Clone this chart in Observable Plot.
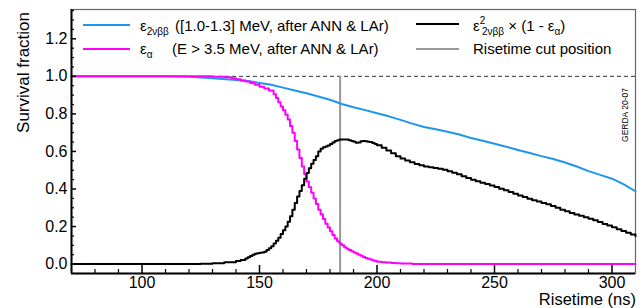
<!DOCTYPE html>
<html><head><meta charset="utf-8">
<script src="https://cdn.jsdelivr.net/npm/d3@7"></script>
<script src="https://cdn.jsdelivr.net/npm/@observablehq/plot@0.6"></script>
<style>html,body{margin:0;padding:0;background:#fff}</style>
</head><body><div id="chart"></div>
<script>
// ---- data ----
const blueT = [70,110,120,130,140,145,150,155,160,165,170,175,180,185,190,195,200,205,210,215,220,225,230,235,240,245,250,255,260,265,270,275,280,285,290,295,300,305,310];
const blueV = [1.0,1.0,0.998,0.99,0.98,0.975,0.965,0.955,0.94,0.925,0.91,0.893,0.875,0.853,0.835,0.82,0.803,0.787,0.768,0.748,0.73,0.718,0.705,0.69,0.672,0.657,0.641,0.625,0.608,0.592,0.575,0.56,0.541,0.52,0.495,0.475,0.455,0.425,0.388];

const magT = [70,125,130,135,138,140,142,144,146,148,150,152,154,
  156,157,158,159,160,161,162,163,164,165,166,167,168,169,170,171,172,173,174,175,176,177,178,179,180,
  181,182,183,184,185,186,187,188,189,190,191,192,193,194,195,196,197,198,199,200,
  202,204,206,208,210,215,220,310];
const magV = [1.0,1.0,0.998,0.995,0.99,0.985,0.978,0.972,0.965,0.955,0.945,0.935,0.925,
  0.905,0.885,0.862,0.84,0.82,0.795,0.77,0.735,0.70,0.655,0.61,0.565,0.52,0.48,0.44,0.41,0.38,0.35,0.32,0.29,0.265,0.24,0.215,0.195,0.175,
  0.155,0.137,0.122,0.11,0.1,0.09,0.082,0.075,0.068,0.062,0.056,0.05,0.044,0.038,0.032,0.028,0.024,0.02,0.016,0.013,
  0.01,0.008,0.006,0.004,0.003,0.001,0,0];

const blackT = [70,120,125,130,135,140,142,
  144,145,146,147,148,149,150,151,152,153,154,155,156,157,158,159,160,161,162,163,164,165,166,167,168,169,170,171,172,
  173,174,175,176,177,178,179,180,181,182,183,184,185,186,187,188,189,190,191,192,193,194,195,196,197,198,199,200,
  202,204,206,208,210,212,214,216,218,220,222,224,226,228,230,232,234,236,238,240,242,244,246,248,250,
  252,254,256,258,260,262,264,266,268,270,272,274,276,278,280,282,284,286,288,290,292,294,296,298,300,302,304,306,308,310];
const blackV = [0,0,0.002,0.005,0.01,0.017,0.022,
  0.03,0.036,0.043,0.05,0.055,0.058,0.06,0.062,0.066,0.075,0.085,0.095,0.11,0.125,0.14,0.16,0.18,0.2,0.225,0.255,0.29,0.325,0.36,0.39,0.42,0.455,0.485,0.51,0.535,
  0.555,0.575,0.6,0.615,0.622,0.627,0.632,0.64,0.648,0.655,0.66,0.663,0.664,0.664,0.663,0.66,0.656,0.652,0.647,0.648,0.654,0.655,0.654,0.652,0.65,0.645,0.64,0.633,
  0.62,0.605,0.59,0.575,0.562,0.552,0.542,0.533,0.526,0.52,0.516,0.512,0.508,0.502,0.495,0.487,0.478,0.468,0.458,0.449,0.441,0.433,0.426,0.419,0.411,
  0.402,0.393,0.384,0.375,0.366,0.357,0.348,0.34,0.333,0.326,0.319,0.31,0.3,0.29,0.281,0.272,0.264,0.257,0.249,0.241,0.233,0.224,0.214,0.205,0.196,0.186,0.176,0.167,0.158,0.149];

const cutPosition = 184.3;
const referenceLevel = 1.0;
const xMajor = [100,150,200,250,300];
const xMinor = [80,90,110,120,130,140,160,170,180,190,210,220,230,240,260,270,280,290];
const yMajor = [0,0.2,0.4,0.6,0.8,1.0,1.2];
const yMinor = [0.05,0.1,0.15,0.25,0.3,0.35,0.45,0.5,0.55,0.65,0.7,0.75,0.85,0.9,0.95,1.05,1.1,1.15,1.25,1.3,1.35];

const xDomain = [70, 310];
const yDomain = [-0.05, 1.356];

const blue = blueT.map((t,i)=>({t, v: blueV[i]}));
const mag = magT.map((t,i)=>({t, v: magV[i]}));
const black = blackT.map((t,i)=>({t, v: blackV[i]}));

const BLUE = "#1e96f0", MAG = "#ff00ff", GREY = "#999999";

const chart = Plot.plot({
  width: 643, height: 308,
  marginLeft: 71, marginRight: 8, marginTop: 9, marginBottom: 35,
  style: {fontFamily: "'Liberation Sans', Arial, sans-serif", fontSize: "16px", color: "#000", background: "#fff"},
  x: {domain: xDomain},
  y: {domain: yDomain},
  marks: [
    Plot.frame({stroke: "#666", strokeWidth: 1.2}),
    Plot.ruleY([referenceLevel], {stroke: "#333", strokeDasharray: "4,3", strokeWidth: 1}),
    Plot.ruleX([cutPosition], {y1: referenceLevel, y2: yDomain[0], stroke: GREY, strokeWidth: 2}),
    Plot.line(blue, {x: "t", y: "v", stroke: BLUE, strokeWidth: 2, curve: "linear"}),
    Plot.line(mag, {x: "t", y: "v", stroke: MAG, strokeWidth: 2, curve: "step-after"}),
    Plot.line(black, {x: "t", y: "v", stroke: "#000", strokeWidth: 2, curve: "step-after"}),
    Plot.ruleX([xDomain[0]], {stroke: "#000", strokeWidth: 2}),
    Plot.ruleY([yDomain[0]], {stroke: "#000", strokeWidth: 2}),
    Plot.axisX(xMajor, {tickSize: 0, tickPadding: 3, fontSize: 16, label: null}),
    Plot.axisX(xMajor, {tickSize: 8, dy: -8, text: null, label: null, strokeWidth: 1.5}),
    Plot.axisX(xMinor, {tickSize: 4, dy: -4, text: null, label: null, strokeWidth: 1.2}),
    Plot.axisY(yMajor, {tickSize: 0, tickPadding: 4, fontSize: 16, label: null, tickFormat: d3.format(".1f")}),
    Plot.axisY(yMajor, {tickSize: 5, dx: 5, text: null, label: null, strokeWidth: 1.5}),
    Plot.axisY(yMinor, {tickSize: 3, dx: 3, text: null, label: null, strokeWidth: 1.2})
  ]
});
document.getElementById("chart").appendChild(chart);

const svg = d3.select(chart);
const F = "'Liberation Sans', Arial, sans-serif";
// axis titles
svg.append("text").attr("transform","translate(29,12) rotate(-90)").attr("text-anchor","end")
  .attr("font-family",F).attr("font-size",17).attr("fill","#000").text("Survival fraction");
svg.append("text").attr("x",636).attr("y",305).attr("text-anchor","end")
  .attr("font-family",F).attr("font-size",16.5).attr("fill","#000").text("Risetime (ns)");
svg.append("text").attr("transform","translate(628,115) rotate(-90)").attr("text-anchor","middle")
  .attr("font-family",F).attr("font-size",8.5).attr("fill","#000").text("GERDA 20-07");

// legend
const lg = svg.append("g").attr("font-family",F).attr("fill","#000").attr("text-anchor","start");
const sample = (x1,x2,y,c,w)=> lg.append("line").attr("x1",x1).attr("x2",x2).attr("y1",y).attr("y2",y).attr("stroke",c).attr("stroke-width",w);
sample(83,130,25,BLUE,2);
sample(83,130,49,MAG,2);
sample(416,459,24,"#000",2);
sample(416,459,49,GREY,2);

let t1 = lg.append("text").attr("x",140).attr("y",31).attr("font-size",15);
t1.append("tspan").text("ε");
t1.append("tspan").attr("font-size",10).attr("dy",4).text("2νββ");
t1.append("tspan").attr("x",175).attr("dy",-4).text("([1.0-1.3] MeV, after ANN & LAr)");

let t2 = lg.append("text").attr("x",140).attr("y",54).attr("font-size",15);
t2.append("tspan").text("ε");
t2.append("tspan").attr("font-size",10).attr("dy",4).text("α");
t2.append("tspan").attr("x",172).attr("dy",-4).text("(E > 3.5 MeV, after ANN & LAr)");

let t3 = lg.append("text").attr("x",473).attr("y",31).attr("font-size",15);
t3.append("tspan").text("ε");
t3.append("tspan").attr("font-size",10).attr("dy",-7).text("2");
t3.append("tspan").attr("font-size",10).attr("x",482).attr("dy",11).text("2νββ");
t3.append("tspan").attr("dy",-4).text(" × (1 - ε");
t3.append("tspan").attr("font-size",10).attr("dy",4).text("α");
t3.append("tspan").attr("dy",-4).text(")");

let t4 = lg.append("text").attr("x",473).attr("y",54).attr("font-size",15).text("Risetime cut position");
</script>
</body></html>
